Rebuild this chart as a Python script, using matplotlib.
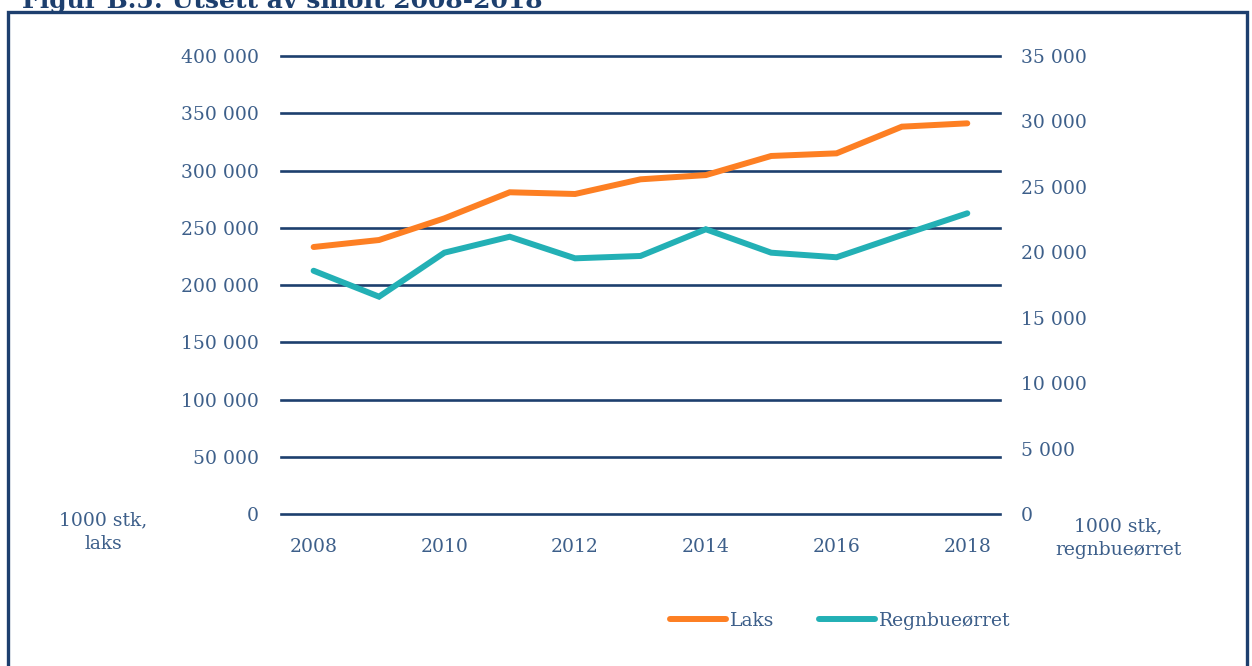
import matplotlib.pyplot as plt
from matplotlib.patches import Rectangle

plt.rcParams['font.family'] = ['DejaVu Serif']

# data
years = [2008, 2009, 2010, 2011, 2012, 2013, 2014, 2015, 2016, 2017, 2018]
laks = [233200, 239300, 258200, 281000, 279500, 292300, 296000, 312700, 315000, 338300, 341200]
regnbue = [18590, 16610, 19970, 21190, 19540, 19720, 21760, 19970, 19620, 21320, 22980]

left_ticks = [0, 50000, 100000, 150000, 200000, 250000, 300000, 350000, 400000]
right_ticks = [0, 5000, 10000, 15000, 20000, 25000, 30000, 35000]
x_ticks = [2008, 2010, 2012, 2014, 2016, 2018]

def fmt(v):
    return f"{v:,}".replace(",", " ")

navy = '#1d3f6e'
txt = '#3d5f8a'
orange = '#fd7f23'
teal = '#23b0b5'

fig = plt.figure(figsize=(12.52, 6.66), dpi=100)
ax = fig.add_axes([0.2244, 0.2282, 0.5743, 0.6877])
ax2 = ax.twinx()

ax.set_xlim(2007.5, 2018.5)
ax.set_ylim(0, 400000)
ax2.set_ylim(0, 35000)

# gridlines
for t in left_ticks:
    ax.axhline(t, color=navy, lw=1.9, clip_on=False, zorder=1)

l1, = ax.plot(years, laks, color=orange, lw=4.3, solid_capstyle='round',
              solid_joinstyle='miter', label='Laks', zorder=3)
l2, = ax2.plot(years, regnbue, color=teal, lw=4.3, solid_capstyle='round',
               solid_joinstyle='miter', label='Regnbueørret', zorder=3)

for a in (ax, ax2):
    for s in a.spines.values():
        s.set_visible(False)
    a.tick_params(length=0, labelsize=13.5, labelcolor=txt)

ax.set_yticks(left_ticks)
ax.set_yticklabels([fmt(v) for v in left_ticks])
ax.tick_params(axis='y', pad=16)
ax2.set_yticks(right_ticks)
ax2.set_yticklabels([fmt(v) for v in right_ticks])
ax2.tick_params(axis='y', pad=15)
ax.set_xticks(x_ticks)
ax.set_xticklabels([str(v) for v in x_ticks])
ax.tick_params(axis='x', pad=17)

fig.text(103 / 1252, 1 - 532 / 666, "1000 stk,\nlaks", ha='center', va='center',
         fontsize=13.5, color=txt, linespacing=1.4)
fig.text(1118 / 1252, 1 - 538 / 666, "1000 stk,\nregnbueørret", ha='center', va='center',
         fontsize=13.5, color=txt, linespacing=1.4)

fig.legend(handles=[l1, l2], loc='center', bbox_to_anchor=(840 / 1252, 1 - 621 / 666),
           ncol=2, frameon=False, fontsize=13.5, labelcolor=txt, handlelength=3.0,
           handletextpad=0.2, columnspacing=2.4)

# frame and cut-off title
fig.patches.append(Rectangle((8 / 1252, -0.05), 1239 / 1252, 1.05 - 12 / 666,
                             transform=fig.transFigure, fill=False, edgecolor=navy,
                             lw=2.4, clip_on=False))
fig.text(22 / 1252, 1 - 8 / 666, "Figur B.5: Utsett av smolt 2008-2018", ha='left',
         va='baseline', fontsize=18, fontweight='bold', color=navy)

fig.savefig('out.png', dpi=100)
